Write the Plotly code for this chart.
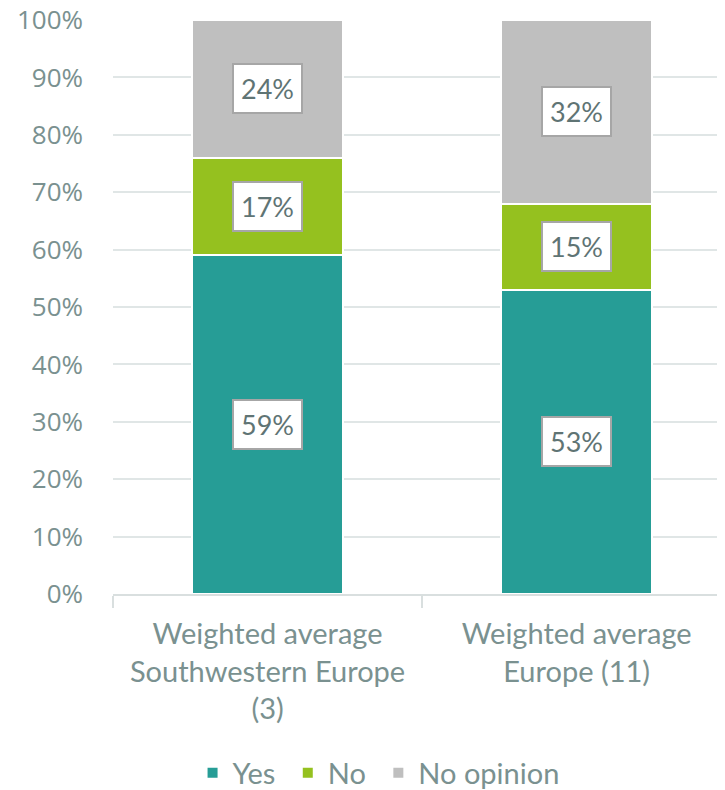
import plotly.graph_objects as go

CATEGORIES = ['Weighted average<br>Southwestern Europe<br>(3)', 'Weighted average<br>Europe (11)']
SERIES = ['Yes', 'No', 'No opinion']
YES = [59, 53]
NO = [17, 15]
NO_OPINION = [24, 32]
TICK_VALS = [0, 10, 20, 30, 40, 50, 60, 70, 80, 90, 100]
TICK_TEXT = ['0%', '10%', '20%', '30%', '40%', '50%', '60%', '70%', '80%', '90%', '100%']

COLORS = ['#269d96', '#95c11f', '#bfbfbf']
TEXT_CLR = '#7a9190'
LABEL_CLR = '#5f7474'
FONT = 'Lato, sans-serif'

values = [YES, NO, NO_OPINION]

fig = go.Figure()
for name, vals, clr in zip(SERIES, values, COLORS):
    fig.add_trace(go.Bar(
        name=name + '\u00a0', x=CATEGORIES, y=vals,
        marker=dict(color=clr, line=dict(color='white', width=2)),
        width=0.49,
    ))

# value labels in white boxes at the middle of each segment
annotations = []
for i, cat in enumerate(CATEGORIES):
    base = 0
    for vals in values:
        v = vals[i]
        annotations.append(dict(
            x=cat, y=base + v / 2, xref='x', yref='y',
            text=f'{v}%', showarrow=False,
            font=dict(size=27, color=LABEL_CLR, family=FONT),
            bgcolor='white', bordercolor='#a6a6a6', borderwidth=2, borderpad=7,
        ))
        base += v

fig.update_layout(
    barmode='stack', bargap=0.5,
    width=717, height=782,
    paper_bgcolor='white', plot_bgcolor='white',
    font=dict(family=FONT, color=TEXT_CLR, size=24),
    margin=dict(l=105, r=0, t=12, b=196),
    xaxis=dict(
        automargin=False,
        showgrid=False, showline=True, linecolor='#d9dfdf', linewidth=2,
        ticks='outside', tickson='boundaries', ticklen=12, tickcolor='#d9dfdf',
        tickwidth=2, tickfont=dict(size=29, color=TEXT_CLR, family=FONT),
        ticklabelstandoff=13,
        range=[-0.5, 1.48],
    ),
    yaxis=dict(
        automargin=False,
        range=[0, 100], tickvals=TICK_VALS, ticktext=TICK_TEXT,
        showgrid=True, gridcolor='#e0e6e6', gridwidth=2, zeroline=False,
        tickfont=dict(size=26, color=TEXT_CLR, family='Open Sans, sans-serif'),
        ticklabelstandoff=29, ticklabeloverflow='allow',
    ),
    legend=dict(
        orientation='h', x=0.13, xanchor='left',
        yref='container', y=0.022, yanchor='middle',
        font=dict(size=29, color=TEXT_CLR, family=FONT),
        itemwidth=30, traceorder='normal',
    ),
    annotations=annotations,
)

fig.write_html('out.html')
